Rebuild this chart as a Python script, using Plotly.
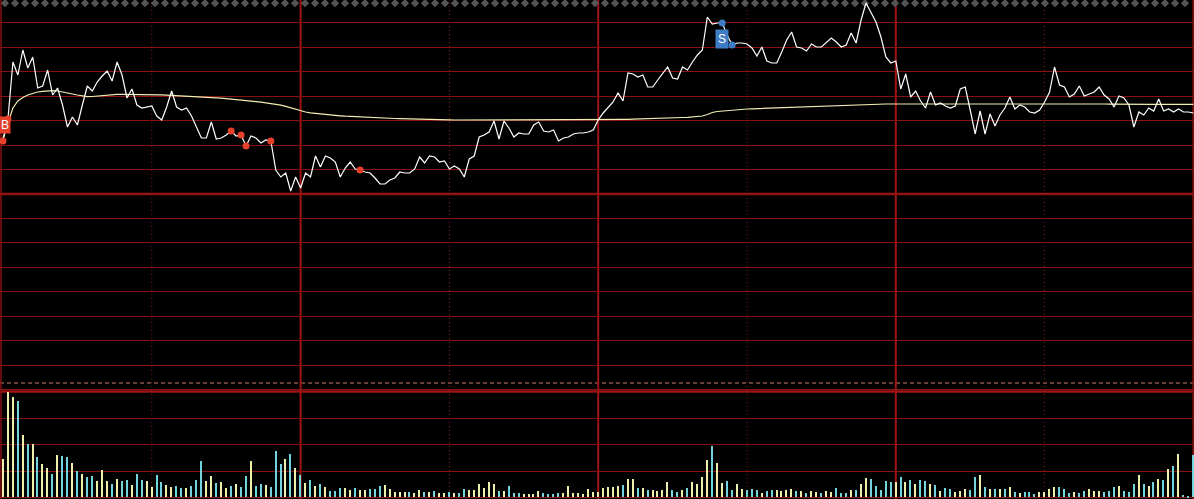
import plotly.graph_objects as go
import numpy as np

# ---------------- data ----------------
minutes = list(range(241))

# price change vs. previous close (one grid step = 24.45 units)
price_chg = [
    53, 75, 132, 119, 144, 126, 137, 106, 108, 124,
    99, 106, 89, 67, 77, 69, 89, 108, 103, 112,
    118, 123, 113, 132, 119, 96, 105, 89, 86, 87,
    88, 78, 74, 87, 103, 87, 84, 86, 78, 67,
    56, 56, 72, 55, 56, 59, 63, 58, 59, 48,
    58, 56, 51, 54, 53, 24, 17, 21, 3, 17,
    6, 21, 17, 38, 27, 38, 36, 32, 17, 26,
    32, 25, 24, 22, 21, 16, 10, 10, 14, 16,
    22, 21, 21, 25, 37, 31, 38, 37, 32, 33,
    25, 28, 25, 17, 35, 38, 57, 59, 62, 73,
    55, 73, 66, 57, 61, 60, 60, 69, 72, 63,
    62, 64, 53, 56, 57, 60, 61, 61, 62, 64,
    74, 81, 87, 92, 101, 93, 121, 120, 117, 119,
    107, 107, 114, 120, 127, 116, 115, 127, 124, 132,
    139, 144, 177, 170, 171, 171, 159, 149, 151, 151,
    150, 146, 138, 147, 133, 131, 131, 142, 154, 162,
    147, 146, 143, 150, 147, 147, 152, 156, 152, 147,
    149, 161, 151, 174, 191, 182, 172, 157, 137, 131,
    133, 105, 120, 97, 103, 93, 86, 102, 89, 91,
    88, 86, 88, 105, 107, 84, 60, 83, 60, 80,
    68, 79, 86, 97, 85, 89, 87, 82, 81, 84,
    92, 102, 127, 109, 107, 97, 100, 108, 98, 100,
    102, 107, 99, 95, 87, 98, 96, 89, 67, 82,
    79, 86, 83, 95, 83, 85, 82, 85, 82, 82,
    81,
]

avg_chg = [
    56, 72, 86, 93, 96.5, 99, 100.5, 102, 102.7, 103.2,
    103.3, 103, 102.2, 101, 100, 99, 98, 97.3, 97.5, 98,
    98.5, 99, 99.4, 99.7, 99.7, 99.7, 99.7, 99.7, 99.6, 99.5,
    99.5, 99.3, 99.1, 98.9, 98.7, 98.5, 98.3, 98.1, 97.9, 97.6,
    97.3, 97, 96.6, 96.2, 95.8, 95.4, 95, 94.5, 94, 93.5,
    93, 92.4, 91.8, 91.2, 90.6, 89.8, 88.8, 87.6, 86.2, 84.6,
    83, 82, 81.2, 80.6, 80, 79.4, 79, 78.6, 78.2, 77.8,
    77.5, 77.2, 77, 76.7, 76.5, 76.3, 76.1, 75.9, 75.7, 75.5,
    75.4, 75.2, 75.1, 75, 75, 74.8, 74.7, 74.5, 74.4, 74.2,
    74.1, 74, 74, 74, 74, 74, 74, 74, 74, 74,
    74, 74, 74, 74, 74, 74, 74, 74, 74, 74,
    74, 74, 74, 74, 74, 74, 74, 74, 74, 74,
    74, 74, 74, 74.2, 74.4, 74.6, 74.7, 74.8, 74.9, 75,
    75.1, 75.2, 75.3, 75.5, 75.7, 75.9, 76.2, 76.5, 76.7, 77,
    77.5, 78, 79.5, 81.5, 82.5, 83, 83.5, 84, 84.4, 84.7,
    85, 85.2, 85.4, 85.6, 85.8, 86, 86.2, 86.4, 86.6, 86.8,
    87, 87.2, 87.4, 87.6, 87.8, 88, 88.2, 88.4, 88.5, 88.7,
    88.8, 88.9, 89, 89.2, 89.4, 89.6, 89.8, 90, 90, 90,
    90, 90, 90, 90, 90, 90, 90, 90, 90, 90,
    90, 90, 90, 90, 90, 90, 90, 90, 90, 90,
    90, 90.1, 90.2, 90.3, 90.4, 90.5, 90.6, 90.6, 90.7, 90.7,
    90.7, 90.7, 90.7, 90.7, 90.7, 90.7, 90.6, 90.5, 90.4, 90.3,
    90.2, 90.1, 90, 89.9, 89.8, 89.8, 89.7, 89.7, 89.7, 89.7,
    89.7, 89.7, 89.7, 89.7, 89.7, 89.7, 89.7, 89.7, 89.7, 89.7,
    89.7,
]

volume = [
    1455, 4013, 3823, 3659, 2367, 2025, 2025, 1520, 1265, 1113,
    885, 1607, 1569, 1520, 1292, 999, 885, 771, 809, 619,
    1037, 619, 505, 695, 619, 657, 467, 885, 657, 619,
    403, 847, 581, 467, 403, 429, 353, 353, 429, 657,
    1391, 619, 809, 543, 581, 353, 429, 505, 391, 809,
    1391, 429, 505, 467, 391, 1771, 1265, 1455, 1645, 1113,
    847, 532, 657, 429, 505, 391, 239, 239, 353, 353,
    277, 353, 277, 277, 315, 315, 429, 467, 315, 201,
    201, 201, 201, 163, 277, 201, 201, 239, 163, 163,
    201, 163, 163, 315, 277, 277, 505, 353, 581, 505,
    239, 239, 429, 163, 163, 125, 125, 125, 239, 163,
    125, 125, 163, 163, 429, 163, 163, 125, 315, 201,
    201, 353, 391, 391, 429, 467, 695, 695, 353, 353,
    277, 277, 239, 277, 581, 277, 201, 277, 353, 581,
    505, 771, 1417, 1949, 1303, 543, 619, 277, 505, 315,
    277, 315, 277, 163, 239, 277, 277, 239, 277, 315,
    239, 239, 163, 239, 201, 163, 239, 201, 353, 163,
    163, 277, 277, 505, 733, 695, 429, 277, 619, 581,
    581, 771, 581, 657, 505, 657, 619, 505, 467, 239,
    353, 315, 201, 239, 315, 277, 771, 847, 391, 315,
    315, 315, 315, 391, 201, 163, 201, 201, 125, 201,
    201, 315, 391, 391, 315, 163, 201, 163, 239, 315,
    239, 239, 201, 239, 391, 429, 239, 201, 505, 847,
    505, 429, 581, 695, 657, 1075, 1189, 1645, 87, 30,
    1607,
]

# Y = up tick (pale yellow bar), C = down tick (cyan bar)
vol_dir = list(
    "YYYCYCYCYY" "CYCCYCYCCY" "YYCYCCYCCY" "YCCYYCCYCC" "CYYCYYCYCC"
    "YCCYCCCYCY" "CYCYCYCCCY" "YCYYCCCYYY" "YYCYYCYCYY" "CYCCYYYYYY"
    "CYCCCYYYYC" "CCCYYYYYYY" "YYYYYCYYCY" "CYYYYCCYCY" "YYYCYYCCYY"
    "CCCYCCYYYY" "CYCYYCYYCC" "CYCYYCCCCC" "YCYCYCCYCY" "CCYYYCCYCY"
    "CYCYCYCCCY" "YYYCCCYCCY" "YYCCCYCCCY" "CYCYCYCYCC" "C"
)

buy_minutes = [0, 1, 46, 48, 49, 54, 72]
sell_minutes = [145, 147]

# ---------------- styling ----------------
W, H = 1194, 499
PX_PER_MIN = 4.96
X0 = -3 / PX_PER_MIN
X1 = X0 + W / PX_PER_MIN
PRICE_STEP = 24.45
VOL_STEP = 1000
VOL_DOMAIN_TOP = 107 / H

BG = "#000000"
GRID = "#861212"
GRID_THICK = "#a01414"
DOT_GRID = "#8c1c1c"
PRICE_COL = "#ffffff"
AVG_COL = "#f2edb2"
UP_COL = "#efefac"
DN_COL = "#72d4dc"
BUY_COL = "#e4402c"
SELL_COL = "#3f7cc6"

fig = go.Figure()

# decorative diamond strip across the top
diam_px = np.arange(5, 1190, 10)
fig.add_trace(go.Scatter(
    x=(diam_px - 3) / PX_PER_MIN, y=[194 - 3.2] * len(diam_px),
    mode="markers", marker=dict(symbol="diamond", size=6.4, color="#555555"),
    cliponaxis=False, hoverinfo="skip", xaxis="x", yaxis="y", showlegend=False))

fig.add_trace(go.Scatter(x=minutes, y=avg_chg, mode="lines",
                         line=dict(color=AVG_COL, width=1.2),
                         hoverinfo="skip", showlegend=False))
fig.add_trace(go.Scatter(x=minutes, y=price_chg, mode="lines",
                         line=dict(color=PRICE_COL, width=1.2),
                         hoverinfo="skip", showlegend=False))

fig.add_trace(go.Scatter(x=buy_minutes, y=[price_chg[m] for m in buy_minutes],
                         mode="markers", marker=dict(color=BUY_COL, size=7),
                         cliponaxis=False, hoverinfo="skip", showlegend=False))
fig.add_trace(go.Scatter(x=sell_minutes, y=[price_chg[m] for m in sell_minutes],
                         mode="markers", marker=dict(color=SELL_COL, size=7),
                         cliponaxis=False, hoverinfo="skip", showlegend=False))

fig.add_trace(go.Bar(x=minutes, y=volume, width=0.3,
                     marker=dict(color=[UP_COL if d == "Y" else DN_COL for d in vol_dir],
                                 line=dict(width=0)),
                     xaxis="x", yaxis="y2", hoverinfo="skip", showlegend=False))

# B / S labels
fig.add_annotation(x=minutes[0], y=price_chg[0], xref="x", yref="y", text="B",
                   showarrow=False, xshift=2, yshift=16, bgcolor=BUY_COL,
                   font=dict(color="white", size=12, family="Liberation Sans"),
                   borderpad=1)
fig.add_annotation(x=sell_minutes[0], y=price_chg[sell_minutes[0]], xref="x", yref="y",
                   text="S", showarrow=False, xshift=0, yshift=-16, bgcolor=SELL_COL,
                   font=dict(color="white", size=12, family="Liberation Sans"),
                   borderpad=2)

shapes = []
# previous close line (thick)
shapes.append(dict(type="line", xref="paper", x0=0, x1=1, yref="y", y0=0, y1=0,
                   line=dict(color=GRID_THICK, width=2.5), layer="between"))
# separator between price and volume panes
shapes.append(dict(type="line", xref="paper", x0=0, x1=1, yref="paper",
                   y0=(H - 391.6) / H, y1=(H - 391.6) / H,
                   line=dict(color=GRID_THICK, width=2.5), layer="between"))
# dashed line above volume pane
shapes.append(dict(type="line", xref="paper", x0=0, x1=1, yref="paper",
                   y0=(H - 383) / H, y1=(H - 383) / H,
                   line=dict(color="#d0806f", width=1, dash="4px,3px"), layer="between"))
# hour lines
for m in [60, 120, 180]:
    shapes.append(dict(type="line", xref="x", x0=m, x1=m, yref="paper", y0=0, y1=1,
                       line=dict(color=GRID_THICK, width=2), layer="between"))
# half-hour dotted lines
for m in [30, 90, 150, 210]:
    shapes.append(dict(type="line", xref="x", x0=m, x1=m, yref="paper", y0=0, y1=1,
                       line=dict(color=DOT_GRID, width=1, dash="1px,3px"), layer="between"))
# borders
for m in [-0.4, 239.95]:
    shapes.append(dict(type="line", xref="x", x0=m, x1=m, yref="paper", y0=0, y1=1,
                       line=dict(color=GRID, width=1.5), layer="between"))
fig.update_layout(shapes=shapes)

fig.update_layout(
    width=W, height=H, margin=dict(l=0, r=0, t=0, b=0),
    paper_bgcolor=BG, plot_bgcolor=BG, showlegend=False, bargap=0,
    xaxis=dict(range=[X0, X1], showgrid=False, zeroline=False,
               showticklabels=False, ticks="", anchor="y2"),
    yaxis=dict(domain=[VOL_DOMAIN_TOP, 1], range=[-198, 194], tick0=0, dtick=PRICE_STEP,
               showgrid=True, gridcolor=GRID, gridwidth=1, zeroline=False,
               showticklabels=False, ticks=""),
    yaxis2=dict(domain=[0, VOL_DOMAIN_TOP], range=[-64.6, 4003.6], tick0=0, dtick=VOL_STEP,
                showgrid=True, gridcolor=GRID, gridwidth=1, zeroline=False,
                showticklabels=False, ticks=""),
)

fig.write_html(
    "out.html",
    config={"displayModeBar": False},
    post_script="document.body.style.margin='0';document.body.style.padding='0';"
                "document.body.style.background='#000';document.body.style.overflow='hidden';",
)
